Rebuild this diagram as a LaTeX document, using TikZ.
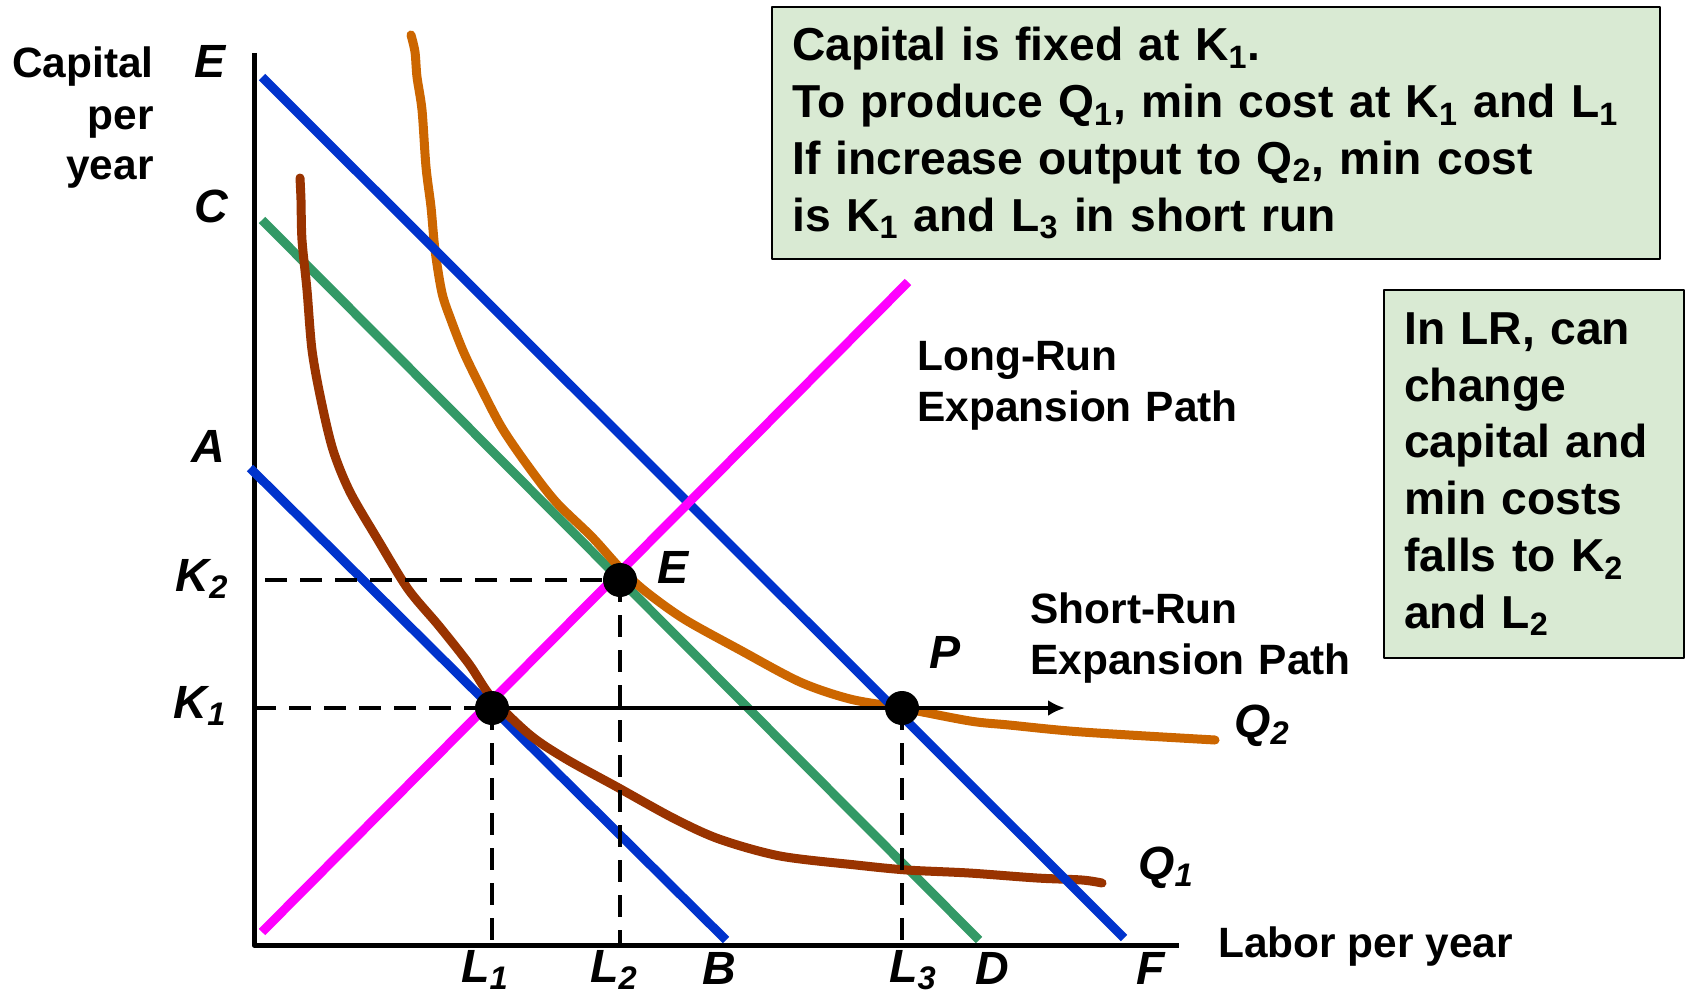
\documentclass[tikz,border=0pt]{standalone}
\usepackage{fontspec}
\setmainfont{Liberation Sans}
\usetikzlibrary{arrows.meta}
\definecolor{budgetblue}{RGB}{0,51,204}
\definecolor{budgetgreen}{RGB}{51,153,102}
\definecolor{pathmagenta}{RGB}{255,0,255}
\definecolor{isoorange}{RGB}{204,102,0}
\definecolor{isobrown}{RGB}{153,51,0}
\definecolor{notegreen}{RGB}{217,234,211}

\begin{document}
\begin{tikzpicture}[x=0.5pt, y=-0.5pt, line join=round,
  axis/.style={line width=2.5pt},
  isocost/.style={line width=4.5pt},
  isoquant/.style={line width=4.5pt, line cap=round},
  guide/.style={line width=2.2pt, dash pattern=on 11pt off 6.5pt},
  lbl/.style={font=\fontsize{23.3}{28}\selectfont\bfseries\itshape, inner sep=0pt},
  txt/.style={font=\fontsize{21.2}{25.5}\selectfont\bfseries, inner sep=0pt, align=left},
  note/.style={draw, line width=1.2pt, fill=notegreen, font=\fontsize{23.1}{28.4}\selectfont\bfseries,
    align=left, inner xsep=10pt, inner ysep=0pt, anchor=north west}]
\useasboundingbox (0,0) rectangle (1685,995);

% ============ AXES ============
\coordinate (O) at (254,945);
\coordinate (Ytop) at (254,53);
\coordinate (Xend) at (1179,945);
\draw[axis] (Ytop) -- (O) -- (Xend);

% ============ ISOCOST LINES + EXPANSION PATH (end points) ============
\coordinate (Eend) at (262,77);   \coordinate (Fend) at (1124,938);
\coordinate (Cend) at (262,220);  \coordinate (Dend) at (979,940);
\coordinate (Aend) at (250,468);  \coordinate (Bend) at (726,940);
\coordinate (LRlow) at (262,932); \coordinate (LRhigh) at (908,282);

% ---- cost minimising points ----
\coordinate (P1) at (492,708);
\coordinate (PE) at (620,580);
\coordinate (PP) at (902,708);
\coordinate (SRend) at (1065,708);

\draw[isocost, budgetgreen] (Cend) -- (Dend);
\draw[isocost, budgetblue] (Aend) -- (Bend);

% isoquant Q1
\draw[isoquant, isobrown] plot[smooth, tension=0.5] coordinates {
  (300,178) (301,200) (302,240) (307,290) (312,350) (321,400) (333,450) (350,492)
  (378,540) (408,589) (439,626) (469,664) (492,698) (530,735) (566,759) (617,787)
  (673,818) (719,839) (780,856) (856,865) (907,870) (969,873) (1037,878) (1082,880)
  (1102,883)};
% isoquant Q2
\draw[isoquant, isoorange] plot[smooth, tension=0.5] coordinates {
  (411,35) (415,52) (417,77) (422,110) (426,167) (431,207) (435,250) (442,293)
  (451,320) (464,353) (482,390) (502,428) (528,466) (556,502) (592,537) (620,568)
  (645,591) (684,619) (740,650) (800,682) (850,699) (902,708) (970,721) (1009,725)
  (1082,732) (1215,740)};

\draw[isocost, budgetblue] (Eend) -- (Fend);
\draw[isocost, pathmagenta] (LRlow) -- (LRhigh);

% ============ GUIDES + SHORT-RUN PATH ============
\draw[guide] (O |- P1) -- (P1);
\draw[guide] (P1) -- (P1 |- O);
\draw[guide] ([xshift=5.5pt]O |- PE) -- (PE);
\draw[guide] (PE) -- (PE |- O);
\draw[guide] (PP) -- (PP |- O);
\draw[-{Latex[length=8.5pt,width=8pt]}, line width=2.4pt] (P1) -- (SRend);

\fill (P1) circle (8.5pt);
\fill (PE) circle (8.5pt);
\fill (PP) circle (8.5pt);

% ============ LABELS ============
\node[txt, align=right, text width=80pt, anchor=base east] (ylabel) at (154,78) {Capital\\per\\year};
\node[txt, anchor=base west] (xlabel) at (1218,957) {Labor per year};

\node[lbl, anchor=base] (labE) at (210,78) {E};
\node[lbl, anchor=base] (labC) at (211,222) {C};
\node[lbl, anchor=base] (labA) at (208,462) {A};
\node[lbl, anchor=base east] (labK2) at (229,591) {K\textsubscript{2}};
\node[lbl, anchor=base east] (labK1) at (227,718) {K\textsubscript{1}};

\node[lbl, anchor=base] (labL1) at (485,982) {L\textsubscript{1}};
\node[lbl, anchor=base] (labL2) at (614,982) {L\textsubscript{2}};
\node[lbl, anchor=base] (labB) at (719,984) {B};
\node[lbl, anchor=base] (labL3) at (913,982) {L\textsubscript{3}};
\node[lbl, anchor=base] (labD) at (992,984) {D};
\node[lbl, anchor=base] (labF) at (1151,984) {F};

\node[lbl, anchor=base west] (labPE) at (657,583) {E};
\node[lbl, anchor=base west] (labPP) at (929,668) {P};
\node[lbl, anchor=base west] (labQ2) at (1234,737) {Q\textsubscript{2}};
\node[lbl, anchor=base west] (labQ1) at (1138,879) {Q\textsubscript{1}};

\node[txt, text width=170pt, anchor=base west] (lrpath) at (917,370) {Long-Run\\Expansion Path};
\node[txt, text width=170pt, anchor=base west] (srpath) at (1030,623) {Short-Run\\Expansion Path};

% ============ NOTES ============
\node[note, text width=424pt, minimum height=126pt] (fixednote) at (771,6)
  {Capital is fixed at K\textsubscript{1}.\\
   To produce Q\textsubscript{1}, min cost at K\textsubscript{1} and L\textsubscript{1}\\
   If increase output to Q\textsubscript{2}, min cost\\
   is K\textsubscript{1} and L\textsubscript{3} in short run};
\node[note, text width=130pt, minimum height=184pt] (lrnote) at (1383,289)
  {In LR, can\\change\\capital and\\min costs\\falls to K\textsubscript{2}\\and L\textsubscript{2}};
\end{tikzpicture}
\end{document}
